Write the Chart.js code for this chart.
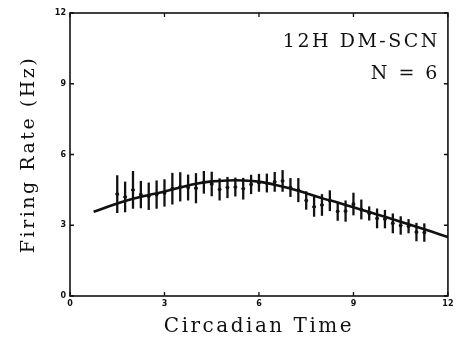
<!DOCTYPE html>
<html>
<head>
<meta charset="utf-8">
<script src="https://cdn.jsdelivr.net/npm/chart.js@4.4.1/dist/chart.umd.min.js"></script>
<style>
  html, body { margin: 0; padding: 0; background: #fff; }
  #wrap { width: 459px; height: 345px; position: relative; }
</style>
</head>
<body>
<div id="wrap"><canvas id="rateChart"></canvas></div>
<script>
// circadian time of each sample (h)
const sampleTimes = [1.5, 1.75, 2, 2.25, 2.5, 2.75, 3, 3.25, 3.5, 3.75,
                     4, 4.25, 4.5, 4.75, 5, 5.25, 5.5, 5.75, 6, 6.25,
                     6.5, 6.75, 7, 7.25, 7.5, 7.75, 8, 8.25, 8.5, 8.75,
                     9, 9.25, 9.5, 9.75, 10, 10.25, 10.5, 10.75, 11, 11.25];
// mean firing rate (Hz) and its error
const meanRate = [4.32, 4.2, 4.5, 4.3, 4.23, 4.3, 4.37, 4.55, 4.63, 4.6,
                  4.57, 4.82, 4.75, 4.52, 4.6, 4.62, 4.55, 4.73, 4.8, 4.79,
                  4.84, 4.88, 4.6, 4.49, 4.05, 3.78, 3.86, 4.04, 3.59, 3.6,
                  3.9, 3.67, 3.5, 3.29, 3.26, 3.08, 2.99, 2.96, 2.71, 2.69];
const semRate = [0.8, 0.65, 0.8, 0.58, 0.58, 0.6, 0.58, 0.67, 0.62, 0.55,
                 0.64, 0.48, 0.52, 0.47, 0.45, 0.4, 0.46, 0.41, 0.38, 0.4,
                 0.42, 0.46, 0.4, 0.51, 0.39, 0.42, 0.46, 0.44, 0.4, 0.45,
                 0.48, 0.42, 0.3, 0.42, 0.39, 0.42, 0.39, 0.3, 0.39, 0.39];
// fitted curve
const fitTimes = [0.75, 1.5, 2, 2.5, 3, 3.5, 4, 4.5, 5, 5.5, 6, 6.5,
                  7, 7.5, 8, 8.5, 9, 9.5, 10, 10.5, 11, 11.5, 12];
const fitRate = [3.57, 3.92, 4.12, 4.28, 4.43, 4.6, 4.76, 4.86, 4.9, 4.9, 4.85, 4.72,
                 4.56, 4.36, 4.15, 3.96, 3.76, 3.56, 3.36, 3.15, 2.94, 2.72, 2.5];
const tickValues = [0, 3, 6, 9, 12];
const labelLines = ['12H DM-SCN', 'N = 6'];

// wide letter spacing for titles, none for tick numbers (drawn later, z = 1)
const spacing = {
    id: 'spacing',
    beforeLayout(chart) { chart.ctx.letterSpacing = '2.5px'; },
    beforeDraw(chart) { chart.ctx.letterSpacing = '2.5px'; }
};

const frameAndBars = {
    id: 'frameAndBars',
    afterDatasetsDraw(chart) {
        const ctx = chart.ctx;
        const a = chart.chartArea;
        const x = chart.scales.x, y = chart.scales.y;
        ctx.save();
        ctx.strokeStyle = '#111';
        ctx.lineCap = 'butt';

        // error bars
        ctx.lineWidth = 2.3;
        sampleTimes.forEach(function (t, i) {
            var px = x.getPixelForValue(t);
            ctx.beginPath();
            ctx.moveTo(px, y.getPixelForValue(meanRate[i] - semRate[i]));
            ctx.lineTo(px, y.getPixelForValue(meanRate[i] + semRate[i]));
            ctx.stroke();
        });

        // box
        ctx.lineWidth = 1.6;
        ctx.strokeRect(a.left, a.top, a.width, a.height);

        // inward ticks on all sides
        ctx.lineWidth = 1.3;
        tickValues.forEach(function (v) {
            var px = x.getPixelForValue(v), py = y.getPixelForValue(v);
            ctx.beginPath();
            ctx.moveTo(px, a.bottom); ctx.lineTo(px, a.bottom - 4);
            ctx.moveTo(px, a.top); ctx.lineTo(px, a.top + 4);
            ctx.moveTo(a.left, py); ctx.lineTo(a.left + 4, py);
            ctx.moveTo(a.right, py); ctx.lineTo(a.right - 4, py);
            ctx.stroke();
        });

        // label in the top right corner
        ctx.fillStyle = '#111';
        ctx.font = '19px "DejaVu Serif"';
        ctx.textAlign = 'right';
        ctx.textBaseline = 'alphabetic';
        ctx.fillText(labelLines[0], a.right - 8, a.top + 34);
        ctx.fillText(labelLines[1], a.right - 8, a.top + 66);
        ctx.restore();
        ctx.letterSpacing = '0px';
    }
};

var tickFont = { family: 'DejaVu Sans', size: 8, weight: 'bold' };

var rateChart = new Chart(document.getElementById('rateChart'), {
    type: 'scatter',
    data: {
        datasets: [{
            label: 'Fit',
            type: 'line',
            data: fitTimes.map((t, i) => ({ x: t, y: fitRate[i] })),
            borderColor: '#111',
            borderWidth: 2.6,
            pointRadius: 0,
            tension: 0.4,
            fill: false
        }, {
            label: 'Mean',
            data: sampleTimes.map((t, i) => ({ x: t, y: meanRate[i] })),
            backgroundColor: '#111',
            borderColor: '#111',
            pointRadius: 1.5,
            pointHoverRadius: 1.5
        }]
    },
    options: {
        responsive: true,
        maintainAspectRatio: false,
        animation: false,
        layout: { padding: { top: 13, right: 7, left: 0, bottom: 0 } },
        plugins: {
            legend: { display: false },
            tooltip: { enabled: false }
        },
        scales: {
            x: {
                type: 'linear',
                min: 0,
                max: 12,
                afterFit: function (scale) { scale.height = 49; },
                afterBuildTicks: function (scale) { scale.ticks = tickValues.map(v => ({ value: v })); },
                grid: { display: false, drawTicks: false },
                border: { display: false },
                ticks: { padding: 3, z: 1, color: '#111', font: tickFont },
                title: {
                    display: true,
                    text: 'Circadian Time',
                    color: '#111',
                    font: { family: 'DejaVu Serif', size: 20 },
                    padding: { top: 0, bottom: 6 }
                }
            },
            y: {
                type: 'linear',
                min: 0,
                max: 12,
                afterFit: function (scale) { scale.width = 70; },
                afterBuildTicks: function (scale) { scale.ticks = tickValues.map(v => ({ value: v })); },
                grid: { display: false, drawTicks: false },
                border: { display: false },
                ticks: { padding: 4, z: 1, color: '#111', font: tickFont },
                title: {
                    display: true,
                    text: 'Firing Rate (Hz)',
                    color: '#111',
                    font: { family: 'DejaVu Serif', size: 19 },
                    padding: { top: 18, bottom: 0 }
                }
            }
        }
    },
    plugins: [spacing, frameAndBars]
});
</script>
</body>
</html>
